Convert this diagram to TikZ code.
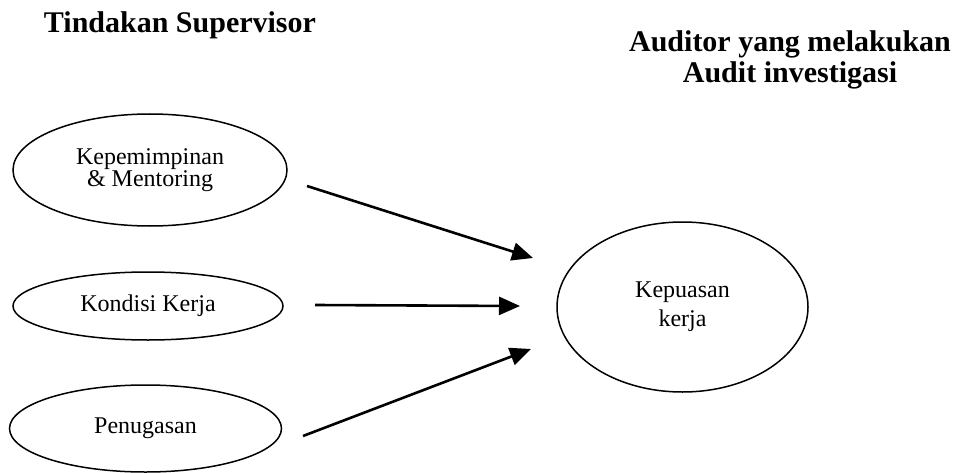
\documentclass[tikz,border=0pt]{standalone}
\usepackage{fontspec}
\setmainfont{Liberation Serif}
\usetikzlibrary{shapes.geometric,arrows.meta}
\tikzset{
  oval/.style={draw, ellipse, line width=1.5pt, inner sep=0pt, align=center,
    font=\fontsize{24}{23}\selectfont},
  header/.style={font=\fontsize{30}{31}\selectfont\bfseries, anchor=base, inner sep=0pt},
  link/.style={line width=2.6pt, -{Triangle[length=21pt,width=18pt]}}
}
\begin{document}
\begin{tikzpicture}[x=1pt,y=-1pt]
\useasboundingbox (0,0) rectangle (957,473);
% headers
\node[header] (h1) at (180,33) {Tindakan Supervisor};
\node[header] (h2a) at (790,52) {Auditor yang melakukan};
\node[header] (h2b) at (790,83) {Audit investigasi};
% ellipses
\node[oval, minimum width=274pt, minimum height=112pt] (e1) at (150,170) {Kepemimpinan\\[-1pt]\& Mentoring};
\node[oval, minimum width=270pt, minimum height=68pt] (e2) at (148,306) {Kondisi Kerja};
\node[oval, minimum width=272pt, minimum height=87pt] (e3) at (145.5,428.5) {Penugasan};
\node[oval, minimum width=251pt, minimum height=170pt, font=\fontsize{24}{29}\selectfont] (k) at (682.5,307) {Kepuasan\\kerja};
% arrow end points
\coordinate (s1) at (307,186);
\coordinate (t1) at (533,258);
\coordinate (s2) at (315,305);
\coordinate (t2) at (520,306);
\coordinate (s3) at (303,436);
\coordinate (t3) at (531,349);
\draw[link] (s1) -- (t1);
\draw[link] (s2) -- (t2);
\draw[link] (s3) -- (t3);
\end{tikzpicture}
\end{document}
